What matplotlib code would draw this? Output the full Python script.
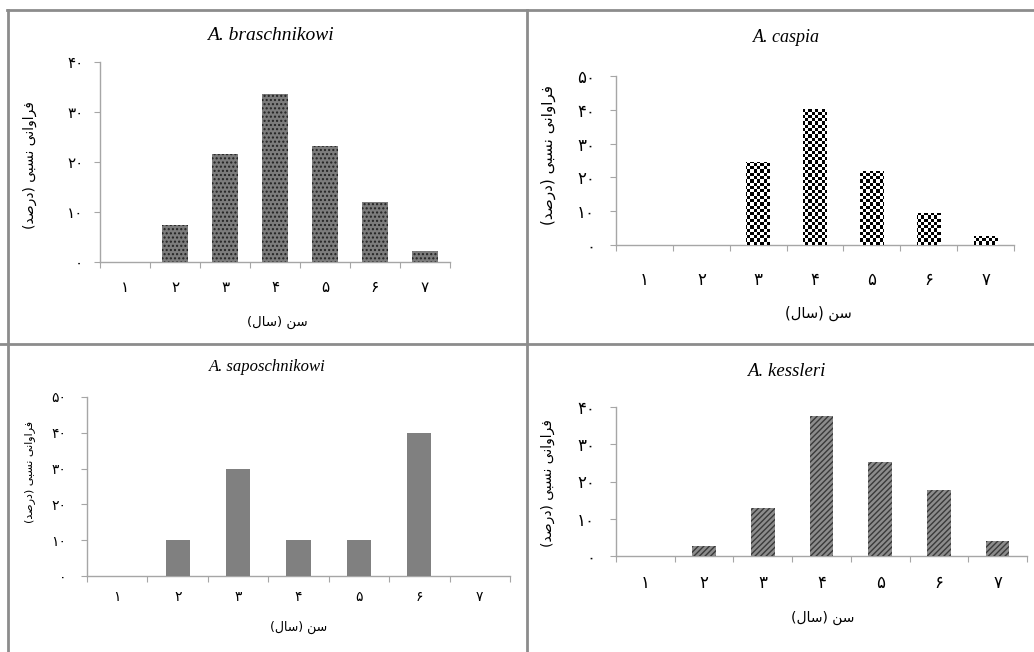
import numpy as np
import matplotlib
matplotlib.use('Agg')
import matplotlib.pyplot as plt
from matplotlib.lines import Line2D

# ---------------- data ----------------
ages = [1, 2, 3, 4, 5, 6, 7]
braschnikowi = [0, 7.4, 21.6, 33.6, 23.3, 12.1, 2.2]
caspia = [0, 0, 24.6, 40.2, 22.0, 9.6, 2.7]
saposchnikowi = [0, 10, 30, 10, 10, 40, 0]
kessleri = [0, 2.6, 12.8, 37.6, 25.2, 17.7, 4.0]
titles = ['A. braschnikowi', 'A. caspia', 'A. saposchnikowi', 'A. kessleri']
ylabel_fa = 'فراوانی نسبی (درصد)'
xlabel_fa = 'سن (سال)'

W, H = 1034, 652
fig = plt.figure(figsize=(W / 100, H / 100), dpi=100)

FA_DIGITS = str.maketrans('0123456789', '۰۱۲۳۴۵۶۷۸۹')


def fa_num(v):
    return str(int(v)).translate(FA_DIGITS)


# minimal Arabic-script shaping (presentation forms) + visual reordering
FORMS = {
    'ا': ('\uFE8D', '\uFE8E', None, None),
    'ب': ('\uFE8F', '\uFE90', '\uFE91', '\uFE92'),
    'د': ('\uFEA9', '\uFEAA', None, None),
    'ر': ('\uFEAD', '\uFEAE', None, None),
    'س': ('\uFEB1', '\uFEB2', '\uFEB3', '\uFEB4'),
    'ص': ('\uFEB9', '\uFEBA', '\uFEBB', '\uFEBC'),
    'ف': ('\uFED1', '\uFED2', '\uFED3', '\uFED4'),
    'ل': ('\uFEDD', '\uFEDE', '\uFEDF', '\uFEE0'),
    'ن': ('\uFEE5', '\uFEE6', '\uFEE7', '\uFEE8'),
    'و': ('\uFEED', '\uFEEE', None, None),
    'ی': ('\uFEEF', '\uFEF0', '\uFEF3', '\uFEF4'),
}


def shape(s):
    out = []
    for i, c in enumerate(s):
        if c not in FORMS:
            out.append(c)
            continue
        prev = s[i - 1] if i > 0 else None
        nxt = s[i + 1] if i + 1 < len(s) else None
        cp = prev in FORMS and FORMS[prev][2] is not None
        cn = FORMS[c][2] is not None and nxt in FORMS
        iso, fin, ini, med = FORMS[c]
        if cp and cn:
            out.append(med)
        elif cp:
            out.append(fin)
        elif cn:
            out.append(ini)
        else:
            out.append(iso)
    vis = ''.join(reversed(out))
    return vis.translate(str.maketrans('()', ')('))


def fx(x):
    return x / W


def fy(y):
    return 1 - y / H


def make_axes(l, t, r, b):
    return fig.add_axes([fx(l), fy(b), fx(r) - fx(l), (b - t) / H])


SPINE = '#a6a6a6'


def setup(ax, ymax, step, ypad, xpad, fs=11):
    ax.set_xlim(0.5, 7.5)
    ax.set_ylim(0, ymax)
    for s in ['top', 'right']:
        ax.spines[s].set_visible(False)
    for s in ['left', 'bottom']:
        ax.spines[s].set_color(SPINE)
        ax.spines[s].set_linewidth(1.0)
    yt = np.arange(0, ymax + 0.1, step)
    ax.set_yticks(yt)
    ax.set_yticklabels([fa_num(v) for v in yt], fontsize=fs, family='DejaVu Sans')
    ax.set_xticks(np.arange(0.5, 8, 1))
    ax.set_xticklabels([])
    ax.set_xticks(ages, minor=True)
    ax.set_xticklabels([fa_num(a) for a in ages], minor=True, fontsize=fs, family='DejaVu Sans')
    ax.tick_params(axis='x', which='major', length=4, color=SPINE, direction='out')
    ax.tick_params(axis='x', which='minor', length=0, pad=xpad)
    ax.tick_params(axis='y', length=4, color=SPINE, pad=ypad)
    ax.set_facecolor('none')


def labels(title, tpos, tfs, xpos, xfs, ypos, yfs):
    fig.text(fx(tpos[0]), fy(tpos[1]), title, ha='center', va='center',
             fontsize=tfs, style='italic', family='Liberation Serif')
    fig.text(fx(xpos[0]), fy(xpos[1]), shape(xlabel_fa), ha='center', va='center',
             fontsize=xfs, family='DejaVu Sans')
    fig.text(fx(ypos[0]), fy(ypos[1]), shape(ylabel_fa), ha='center', va='center',
             fontsize=yfs, rotation=90, family='DejaVu Sans')


plt.rcParams['hatch.linewidth'] = 1.0

# ---------- panel 1 : A. braschnikowi ----------
ax1 = make_axes(100, 62, 450, 262)
ax1.bar(ages, braschnikowi, width=0.52, color='#7c7c7c', edgecolor='#222222',
        linewidth=0, hatch='....', zorder=3)
setup(ax1, 40, 10, 8, 13)
labels(titles[0], (270, 35), 14, (277, 322), 9.5, (30, 165), 10)

# ---------- panel 2 : A. caspia ----------
ax2 = make_axes(616, 76, 1014, 245)
bars2 = ax2.bar(ages, caspia, width=0.41, color='white', edgecolor='none', zorder=3)
setup(ax2, 50, 10, 11, 19, fs=12)
ny, nx = int(169 / 3.2), int(398 / 3.2)
checker = (np.indices((ny, nx)).sum(axis=0) % 2).astype(float)
for b in bars2:
    im = ax2.imshow(checker, extent=(0.5, 7.5, 0, 50), cmap='gray', vmin=0, vmax=1,
                    interpolation='nearest', aspect='auto', zorder=4)
    im.set_clip_path(b)
ax2.set_xlim(0.5, 7.5)
ax2.set_ylim(0, 50)
labels(titles[1], (786, 38), 13, (818, 313), 10.5, (548, 155), 11)

# ---------- panel 3 : A. saposchnikowi ----------
ax3 = make_axes(87, 397, 510, 576)
ax3.bar(ages, saposchnikowi, width=0.40, color='#808080', edgecolor='none', zorder=3)
setup(ax3, 50, 10, 11, 10, fs=10)
labels(titles[2], (267, 367), 12, (299, 627), 9, (30, 472), 8)

# ---------- panel 4 : A. kessleri ----------
ax4 = make_axes(616, 407, 1027, 556)
ax4.bar(ages, kessleri, width=0.40, color='#8c8c8c', edgecolor='#3a3a3a',
        linewidth=0, hatch='//////', zorder=3)
setup(ax4, 40, 10, 11, 13, fs=12)
labels(titles[3], (786, 372), 13.5, (823, 618), 10, (548, 483), 10)

# ---------- panel borders ----------
BC = '#8c8c8c'
for (x0, y0, x1, y1) in [(7, 10, W, 10), (8, 10, 8, H), (0, 344, W, 344), (527, 10, 527, H)]:
    fig.add_artist(Line2D([fx(x0), fx(x1)], [fy(y0), fy(y1)], color=BC, lw=2.0))

fig.savefig('out.png', dpi=100, facecolor='white')
